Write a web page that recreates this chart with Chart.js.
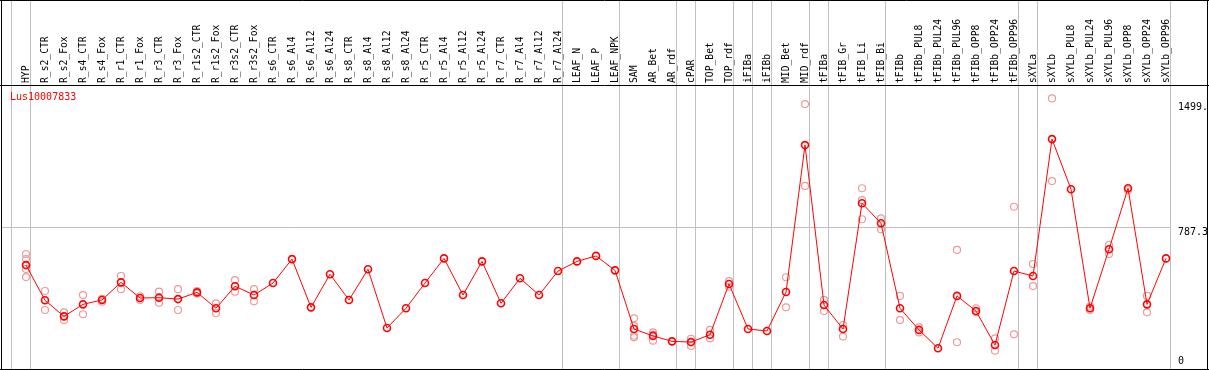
<!DOCTYPE html>
<html><head><meta charset="utf-8">
<script src="https://cdn.jsdelivr.net/npm/chart.js@4/dist/chart.umd.min.js"></script>
<style>html,body{margin:0;padding:0;background:#fff;}#wrap{width:1209px;height:370px;position:relative;}</style>
</head><body><div id="wrap"><canvas id="c" width="1209" height="370"></canvas></div>
<script>
const geneId = 'Lus10007833';
const categories = ['HYP','R_s2_CTR','R_s2_Fox','R_s4_CTR','R_s4_Fox','R_r1_CTR','R_r1_Fox','R_r3_CTR','R_r3_Fox','R_r1s2_CTR','R_r1s2_Fox','R_r3s2_CTR','R_r3s2_Fox','R_s6_CTR','R_s6_Al4','R_s6_Al12','R_s6_Al24','R_s8_CTR','R_s8_Al4','R_s8_Al12','R_s8_Al24','R_r5_CTR','R_r5_Al4','R_r5_Al12','R_r5_Al24','R_r7_CTR','R_r7_Al4','R_r7_Al12','R_r7_Al24','LEAF_N','LEAF_P','LEAF_NPK','SAM','AR_Bet','AR_rdf','cPAR','TOP_Bet','TOP_rdf','iFIBa','iFIBb','MID_Bet','MID_rdf','tFIBa','tFIB_Gr','tFIB_Li','tFIB_Bi','tFIBb','tFIBb_PUL8','tFIBb_PUL24','tFIBb_PUL96','tFIBb_OPP8','tFIBb_OPP24','tFIBb_OPP96','sXYLa','sXYLb','sXYLb_PUL8','sXYLb_PUL24','sXYLb_PUL96','sXYLb_OPP8','sXYLb_OPP24','sXYLb_OPP96'];
const means = [575,375,284,352,377,477,388,390,382,420,330,455,405,473,609,335,523,377,551,218,330,473,613,405,596,358,500,405,541,596,627,545,212,173,142,138,180,468,212,201,422,1256,348,212,926,812,330,207,103,400,314,121,541,513,1290,1005,330,665,1011,352,613];
const replicates = [[638,609,553,507],[428,320],[307,263],[405,296],[383,367],[513,438],[398,377],[424,361],[438,320],[427,413],[358,303],[490,424],[438,369],[],[],[],[],[],[],[],[],[],[],[],[],[],[],[],[],[],[],[],[273,230,174,165],[193,180,146],[],[157,116],[207,159],[452,484],[],[],[506,335],[1489,1024],[377,314],[235,169],[1011,944,835],[840,778],[400,263],[222,193],[],[661,137],[330,307],[159,89],[906,182],[581,456],[1521,1052],[],[340,320],[689,638],[1000],[400,307],[]];
const groupEnds = [-1,0,28,31,34,35,37,38,39,41,42,45,52,53,60];
const yTickValues = [0,787.3,1499];
const yTickLabels = ['0','787.3','1499.'];

const FONT = 'DejaVu Sans Mono';
const repPoints = [];
replicates.forEach((arr,i)=>arr.forEach(v=>repPoints.push({x:i,y:v})));

const decor = {
  id:'decor',
  beforeDatasetsDraw(chart){
    const ctx = chart.ctx, xs = chart.scales.x;
    ctx.save();
    ctx.strokeStyle = '#c0c0c0'; ctx.lineWidth = 1;
    groupEnds.forEach(g=>{
      const px = Math.round(xs.getPixelForValue(g+0.195))+0.5;
      ctx.beginPath(); ctx.moveTo(px,0); ctx.lineTo(px,369); ctx.stroke();
    });
    ctx.restore();
  },
  afterDraw(chart){
    const ctx = chart.ctx, ys = chart.scales.y, xs = chart.scales.x;
    ctx.save();
    ctx.strokeStyle = '#000'; ctx.lineWidth = 1;
    ctx.beginPath();
    ctx.moveTo(0,0.5); ctx.lineTo(1209,0.5);
    ctx.moveTo(1.5,0); ctx.lineTo(1.5,370);
    ctx.moveTo(1207.5,0); ctx.lineTo(1207.5,370);
    ctx.moveTo(0,369.5); ctx.lineTo(1209,369.5);
    ctx.moveTo(0,85.5); ctx.lineTo(1209,85.5);
    ctx.stroke();
    ctx.font = '9.7px "'+FONT+'"';
    ctx.textBaseline = 'middle'; ctx.textAlign = 'left';
    ctx.fillStyle = '#000';
    xs.ticks.forEach(t=>{
      const px = xs.getPixelForValue(t.value);
      ctx.save();
      ctx.translate(px+0.5, 83);
      ctx.rotate(-Math.PI/2);
      ctx.fillText(categories[t.value], 0, 0);
      ctx.restore();
    });
    ctx.font = '10px "'+FONT+'"';
    ctx.fillStyle = '#ff0000';
    ctx.fillText(geneId, 10, 97);
    ctx.fillStyle = '#000';
    yTickValues.forEach((v,i)=>{
      const py = Math.min(ys.getPixelForValue(v)+5, 361.7);
      ctx.fillText(yTickLabels[i], 1178, py);
    });
    ctx.restore();
  }
};

new Chart(document.getElementById('c'), {
  type:'line',
  data:{datasets:[
    {label:'mean', data:means.map((v,i)=>({x:i,y:v})), borderColor:'#ff0000', borderWidth:1,
     pointRadius:3.5, pointBorderWidth:1.6, pointBorderColor:'#ff0000', pointBackgroundColor:'rgba(0,0,0,0)', tension:0, order:0, clip:false},
    {label:'rep', data:repPoints, showLine:false, pointRadius:3.5, pointBorderWidth:1.2,
     pointBorderColor:'#ee9a9a', pointBackgroundColor:'rgba(0,0,0,0)', order:1, clip:false}
  ]},
  options:{
    responsive:false, animation:false, devicePixelRatio:1,
    layout:{autoPadding:false, padding:{left:1,right:0,top:0,bottom:1}},
    plugins:{legend:{display:false}, tooltip:{enabled:false}, title:{display:false}},
    scales:{
      x:{type:'linear', position:'top', min:-25/19, max:-25/19+1170/19,
        afterBuildTicks:s=>{s.ticks = categories.map((_,i)=>({value:i}));},
        afterFit:s=>{s.height = 85; s.paddingLeft = 0; s.paddingRight = 0;},
        ticks:{display:false},
        grid:{display:false, drawTicks:false}, border:{display:false}},
      y:{type:'linear', position:'right', min:-14.8, max:1597,
        afterBuildTicks:s=>{s.ticks = yTickValues.map(v=>({value:v}));},
        afterFit:s=>{s.width = 38; s.paddingTop = 0; s.paddingBottom = 0;},
        ticks:{display:false},
        grid:{drawTicks:false, color:c=>(c.tick && c.tick.value===787.3)?'#c0c0c0':'rgba(0,0,0,0)'},
        border:{display:false}}
    }
  },
  plugins:[decor]
});
</script></body></html>
